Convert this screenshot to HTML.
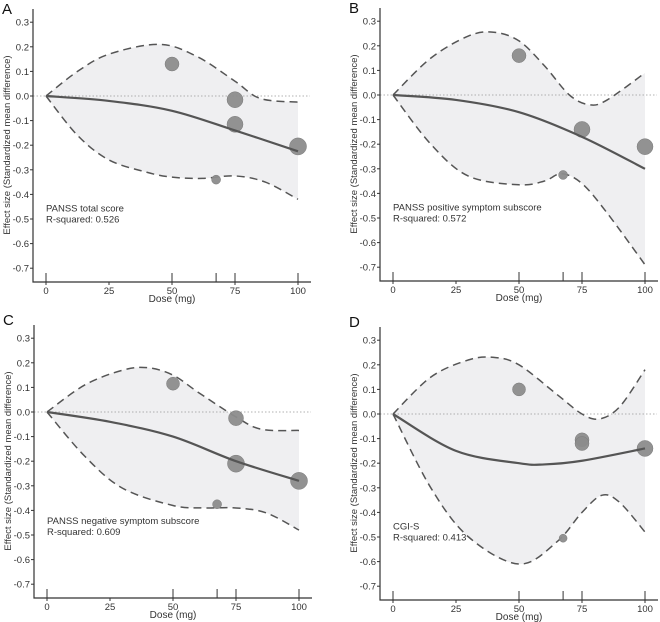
<!DOCTYPE html>
<html><head><meta charset="utf-8"><style>
body{margin:0;background:#fff}
svg{display:block;font-family:"Liberation Sans",Arial,sans-serif}
</style></head><body>
<svg id="chart" width="660" height="622"></svg>
<script>
const NS="http://www.w3.org/2000/svg";
const svg=document.getElementById('chart');
const xTicks=[0,25,50,75,100];
const yTicks=[0.3,0.2,0.1,0.0,-0.1,-0.2,-0.3,-0.4,-0.5,-0.6,-0.7];
const rugDoses=[0,50,67.5,75,100];
const panelLetters=["A","B","C","D"];
const panelTitles=["PANSS total score","PANSS positive symptom subscore","PANSS negative symptom subscore","CGI-S"];
const panelR2=["0.526","0.572","0.609","0.413"];
const labelY=[-0.47,-0.47,-0.455,-0.47];
// bubbles: dose, effect, weight (radius)
const bubA=[[50,0.13,7],[75,-0.015,8],[75,-0.115,8],[100,-0.205,8.5],[67.5,-0.34,4.5]];
const bubB=[[50,0.16,7],[67.5,-0.325,4.5],[75,-0.14,8],[100,-0.21,8]];
const bubC=[[50,0.115,6.5],[67.5,-0.375,4.5],[75,-0.025,7.5],[75,-0.21,8.5],[100,-0.28,8.5]];
const bubD=[[50,0.1,6.5],[67.5,-0.505,4],[75,-0.105,7],[75,-0.12,7],[100,-0.14,8]];
const fitA=[[0,0],[25,-0.02],[50,-0.06],[75,-0.14],[100,-0.225]];
const fitB=[[0,0],[25,-0.02],[50,-0.07],[75,-0.17],[100,-0.3]];
const fitC=[[0,0],[25,-0.04],[50,-0.1],[75,-0.2],[100,-0.28]];
const fitD=[[0,0],[25,-0.15],[50,-0.2],[60,-0.205],[75,-0.19],[100,-0.14]];
const upA=[[0,0],[12.5,0.1],[25,0.17],[45,0.21],[60,0.16],[75,0.06],[85,-0.01],[100,-0.025]];
const loA=[[0,0],[12.5,-0.16],[25,-0.26],[40,-0.31],[50,-0.33],[62,-0.335],[75,-0.325],[87,-0.35],[100,-0.42]];
const upB=[[0,0],[15,0.15],[30,0.24],[40,0.255],[50,0.22],[60,0.12],[70,0.0],[78,-0.04],[85,-0.02],[100,0.09]];
const loB=[[0,0],[15,-0.2],[30,-0.33],[50,-0.365],[60,-0.35],[67,-0.32],[75,-0.36],[85,-0.48],[100,-0.69]];
const upC=[[0,0],[15,0.11],[30,0.17],[40,0.18],[50,0.15],[60,0.08],[75,-0.02],[85,-0.07],[100,-0.075]];
const loC=[[0,0],[15,-0.18],[30,-0.31],[50,-0.38],[62,-0.39],[75,-0.39],[87,-0.41],[100,-0.48]];
const upD=[[0,0],[15,0.15],[30,0.22],[40,0.23],[50,0.2],[65,0.08],[75,0.0],[82,-0.02],[90,0.03],[100,0.18]];
const loD=[[0,0],[15,-0.3],[30,-0.5],[50,-0.61],[65,-0.52],[75,-0.4],[83,-0.33],[90,-0.36],[100,-0.48]];
const bubbles=[bubA,bubB,bubC,bubD], fits=[fitA,fitB,fitC,fitD], ups=[upA,upB,upC,upD], los=[loA,loB,loC,loD];
const offsets=[[0,0],[347,-1],[1,316],[347,318]];

function el(tag,attrs,parent){const e=document.createElementNS(NS,tag);for(const k in attrs)e.setAttribute(k,attrs[k]);(parent||svg).appendChild(e);return e;}
function smooth(pts){
  let d=`M${pts[0][0]},${pts[0][1]}`;
  for(let i=0;i<pts.length-1;i++){
    const p0=pts[i-1]||pts[i],p1=pts[i],p2=pts[i+1],p3=pts[i+2]||p2;
    const c1=[p1[0]+(p2[0]-p0[0])/6,p1[1]+(p2[1]-p0[1])/6],c2=[p2[0]-(p3[0]-p1[0])/6,p2[1]-(p3[1]-p1[1])/6];
    d+=`C${c1[0]},${c1[1]} ${c2[0]},${c2[1]} ${p2[0]},${p2[1]}`;
  }return d;
}
function smoothRev(pts){const r=pts.slice().reverse();return smooth(r).replace(/^M/,'L');}

for(let p=0;p<4;p++){
  const [ox,oy]=offsets[p];
  const xs=v=>ox+46+v*2.52, ys=v=>oy+96-v*246;
  const g=el('g',{});
  
  
  const lt=el('text',{x:ox+2,y:oy+(p>=2?9:14),'font-size':15,fill:'#111'},g);lt.textContent=panelLetters[p];
  
  const U=ups[p].map(a=>[xs(a[0]),ys(a[1])]),L=los[p].map(a=>[xs(a[0]),ys(a[1])]);
  const band=el('path',{d:smooth(U)+smoothRev(L)+'Z',fill:'#efeff1',stroke:'none'},g);
  
  const zl=el('line',{x1:ox+33,x2:ox+310,y1:ys(0),y2:ys(0),stroke:'#999','stroke-width':0.8,'stroke-dasharray':'1.5,2'},g);
  
  const ub=el('path',{d:smooth(U),fill:'none',stroke:'#555','stroke-width':1.5,'stroke-dasharray':'8,5'},g);
  
  const lb=el('path',{d:smooth(L),fill:'none',stroke:'#555','stroke-width':1.5,'stroke-dasharray':'8,5'},g);
  
  bubbles[p].forEach(b=>{
    const c=el('circle',{cx:xs(b[0]),cy:ys(b[1]),r:b[2],fill:'#8c8c8c',stroke:'#7a7a7a','stroke-width':0.5,'fill-opacity':0.95},g);
    
  });
  const F=fits[p].map(a=>[xs(a[0]),ys(a[1])]);
  const fl=el('path',{d:smooth(F),fill:'none',stroke:'#555','stroke-width':2.2},g);
  
  const ax=el('path',{d:`M${ox+33},${oy+9}V${oy+282}H${ox+311}`,fill:'none',stroke:'#333','stroke-width':1.2},g);
  
  yTicks.forEach(t=>{
    el('line',{x1:ox+30,x2:ox+33,y1:ys(t),y2:ys(t),stroke:'#333'},g);
    const tx=el('text',{x:ox+29,y:ys(t)+3.5,'font-size':9.5,'text-anchor':'end',fill:'#333'},g);
    tx.textContent=t.toFixed(1);
    
  });
  xTicks.forEach(t=>{
    el('line',{x1:xs(t),x2:xs(t),y1:oy+282,y2:oy+285,stroke:'#333'},g);
    const tx=el('text',{x:xs(t),y:oy+294,'font-size':9.5,'text-anchor':'middle',fill:'#333'},g);
    tx.textContent=t;
    
  });
  rugDoses.forEach(t=>{
    const r=el('line',{x1:xs(t),x2:xs(t),y1:oy+273,y2:oy+282,stroke:'#333'},g);
    
  });
  const xt=el('text',{x:xs(50),y:oy+302,'font-size':10,'text-anchor':'middle',fill:'#333'},g);
  xt.textContent='Dose (mg)';
  const cy=oy+145;
  const yt=el('text',{x:ox+10,y:cy,'font-size':9.5,'text-anchor':'middle',fill:'#333',transform:`rotate(-90 ${ox+10} ${cy})`},g);
  yt.textContent='Effect size (Standardized mean difference)';
  
  const a1=el('text',{x:xs(0),y:ys(labelY[p]),'font-size':9.5,fill:'#333'},g);
  a1.textContent=panelTitles[p];
  const a2=el('text',{x:xs(0),y:ys(labelY[p])+11,'font-size':9.5,fill:'#333'},g);
  a2.textContent='R-squared: '+panelR2[p];
}
</script>
</body></html>
